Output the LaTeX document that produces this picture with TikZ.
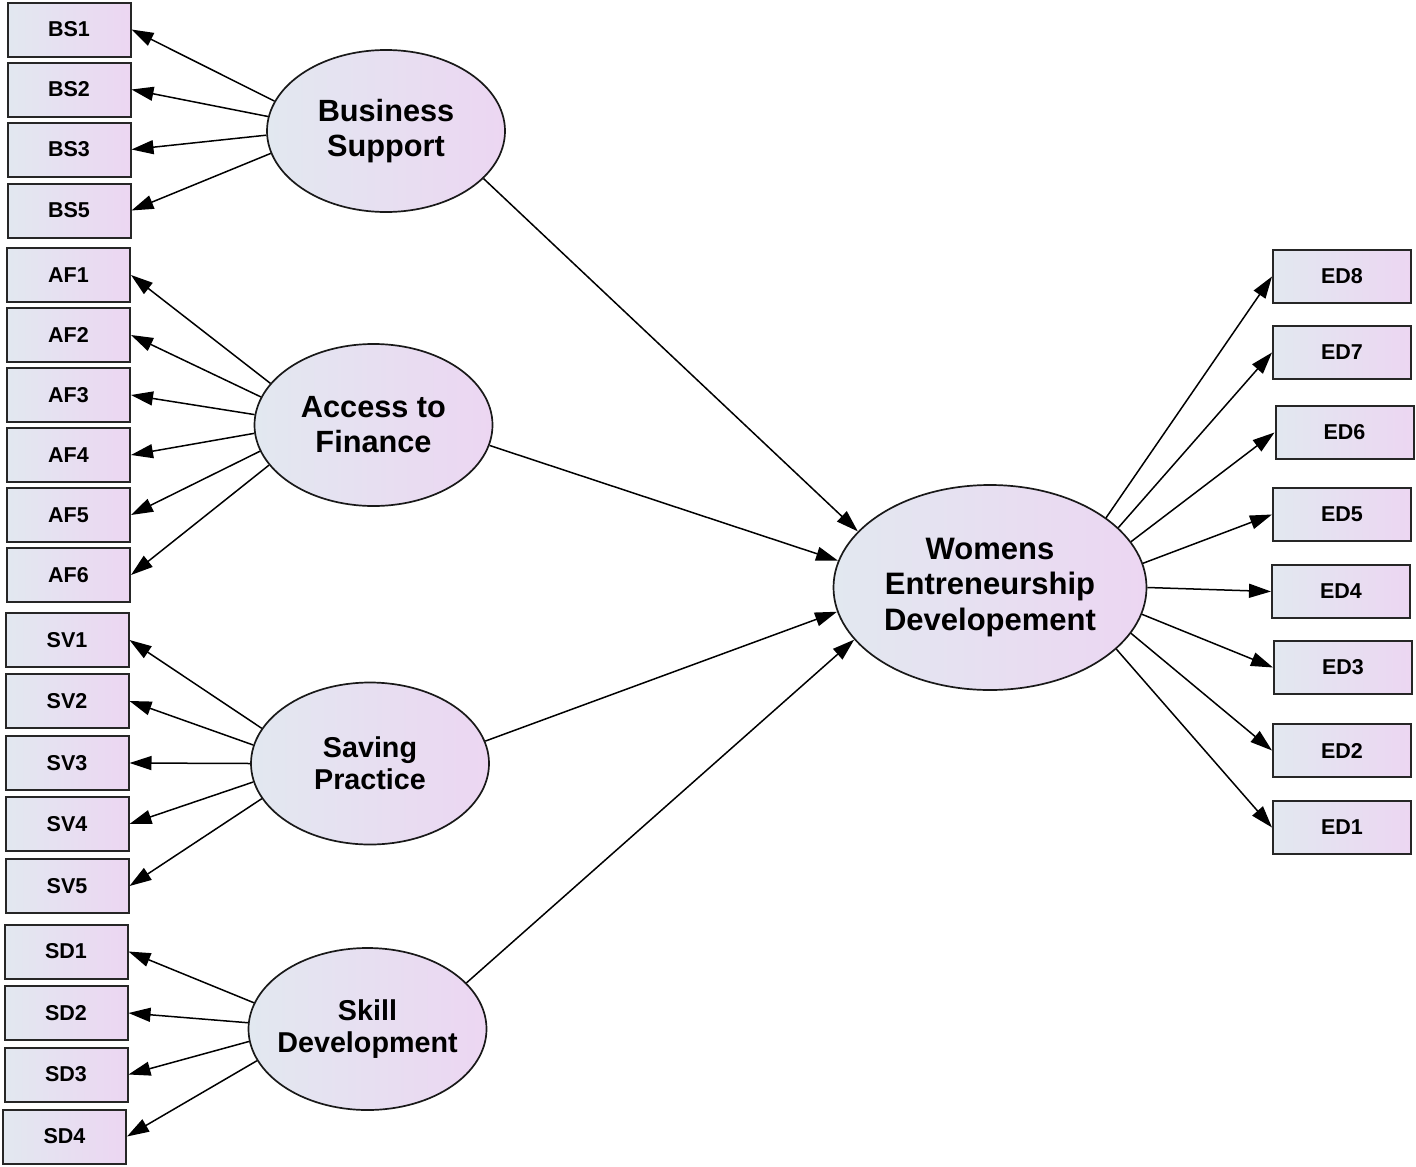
\documentclass[tikz,border=0pt]{standalone}
\usepackage{fontspec}
\setmainfont{Liberation Sans}
\usetikzlibrary{shapes.geometric,arrows.meta}
\definecolor{gl}{RGB}{226,232,240}
\definecolor{gr}{RGB}{236,214,242}
\begin{document}
\begin{tikzpicture}[x=1pt,y=1pt,
 obs/.style={draw=black!85,line width=2pt,left color=gl,right color=gr,minimum width=123pt,minimum height=54pt,inner sep=0pt,font=\fontsize{21.5}{25}\selectfont\bfseries},
 obsr/.style={obs,minimum width=138pt,minimum height=53pt},
 lat/.style={ellipse,draw=black!90,line width=1.7pt,left color=gl,right color=gr,inner sep=0pt,minimum width=238pt,minimum height=162pt},
 lattext/.style={align=center,inner sep=0pt,font=\fontsize{30.7}{35}\selectfont\bfseries},
 lattextsm/.style={lattext,font=\fontsize{28.7}{32}\selectfont\bfseries},
 arr/.style={line width=1.5pt,-{Triangle[length=22pt,width=14pt]}}]
\useasboundingbox (0,-1167) rectangle (1416,0);
% left indicators
\node[obs] (bs1) at (69,-29.5) {BS1};
\node[obs] (bs2) at (69,-89.5) {BS2};
\node[obs] (bs3) at (69,-149.5) {BS3};
\node[obs] (bs5) at (69,-210.5) {BS5};
\node[obs] (af1) at (68.5,-275) {AF1};
\node[obs] (af2) at (68.5,-335) {AF2};
\node[obs] (af3) at (68.5,-395) {AF3};
\node[obs] (af4) at (68.5,-455) {AF4};
\node[obs] (af5) at (68.5,-515) {AF5};
\node[obs] (af6) at (68.5,-575) {AF6};
\node[obs] (sv1) at (67,-640) {SV1};
\node[obs] (sv2) at (67,-701) {SV2};
\node[obs] (sv3) at (67,-763) {SV3};
\node[obs] (sv4) at (67,-824) {SV4};
\node[obs] (sv5) at (67,-886) {SV5};
\node[obs] (sd1) at (66,-951.5) {SD1};
\node[obs] (sd2) at (66,-1013) {SD2};
\node[obs] (sd3) at (66,-1074.5) {SD3};
\node[obs] (sd4) at (64.5,-1136.5) {SD4};
% right indicators
\node[obsr] (ed8) at (1342,-276.5) {ED8};
\node[obsr] (ed7) at (1342,-352.5) {ED7};
\node[obsr] (ed6) at (1344.5,-432.5) {ED6};
\node[obsr] (ed5) at (1342,-514.5) {ED5};
\node[obsr] (ed4) at (1341,-591.5) {ED4};
\node[obsr] (ed3) at (1343,-667.5) {ED3};
\node[obsr] (ed2) at (1342,-750.5) {ED2};
\node[obsr] (ed1) at (1342,-827.5) {ED1};
% latent variables
\node[lat] (bs) at (386,-131) {};
\node[lattext] (bst) at (bs.center) {Business\\Support};
\node[lat] (af) at (373.5,-425) {};
\node[lattext] (aft) at (af.center) {Access to\\Finance};
\node[lat] (sv) at (370,-763.5) {};
\node[lattextsm] (svt) at (sv.center) {Saving\\Practice};
\node[lat] (sd) at (367.5,-1029) {};
\node[lattextsm] (sdt) at (sd.center) {Skill\\Development};
\node[lat,minimum width=313pt,minimum height=205pt] (wed) at (990,-587.5) {};
\node[lattext,font=\fontsize{31}{35.5}\selectfont\bfseries] (wedt) at (wed.center) {Womens\\Entreneurship\\Developement};
% measurement arrows
\draw[arr] (bs.165.5) -- (bs1.east);
\draw[arr] (bs.173.8) -- (bs2.east);
\draw[arr] (bs.182.4) -- (bs3.east);
\draw[arr] (bs.191.2) -- (bs5.east);
\draw[arr] (af.158.2) -- (af1.east);
\draw[arr] (af.166.8) -- (af2.east);
\draw[arr] (af.175.2) -- (af3.east);
\draw[arr] (af.184.8) -- (af4.east);
\draw[arr] (af.193.2) -- (af5.east);
\draw[arr] (af.201.8) -- (af6.east);
\draw[arr] (sv.162.5) -- (sv1.east);
\draw[arr] (sv.171.3) -- (sv2.east);
\draw[arr] (sv.180) -- (sv3.east);
\draw[arr] (sv.189.7) -- (sv4.east);
\draw[arr] (sv.198.9) -- (sv5.east);
\draw[arr] (sd.167.5) -- (sd1.east);
\draw[arr] (sd.177) -- (sd2.east);
\draw[arr] (sd.186.8) -- (sd3.east);
\draw[arr] (sd.196.4) -- (sd4.east);
% structural arrows
\draw[arr] (bs.-26.1) -- (wed.157.2);
\draw[arr] (af.-10.6) -- (wed.170.2);
\draw[arr] (sv.11.2) -- (wed.189.8);
\draw[arr] (sd.25.6) -- (wed.201.6);
% outcome indicators
\draw[arr] (wed.31) -- (ed8.west);
\draw[arr] (wed.25.7) -- (ed7.west);
\draw[arr] (wed.18.4) -- (ed6.west);
\draw[arr] (wed.9.3) -- (ed5.west);
\draw[arr] (wed.-0.7) -- (ed4.west);
\draw[arr] (wed.-10.4) -- (ed3.west);
\draw[arr] (wed.-18.9) -- (ed2.west);
\draw[arr] (wed.-26.2) -- (ed1.west);
\end{tikzpicture}
\end{document}
